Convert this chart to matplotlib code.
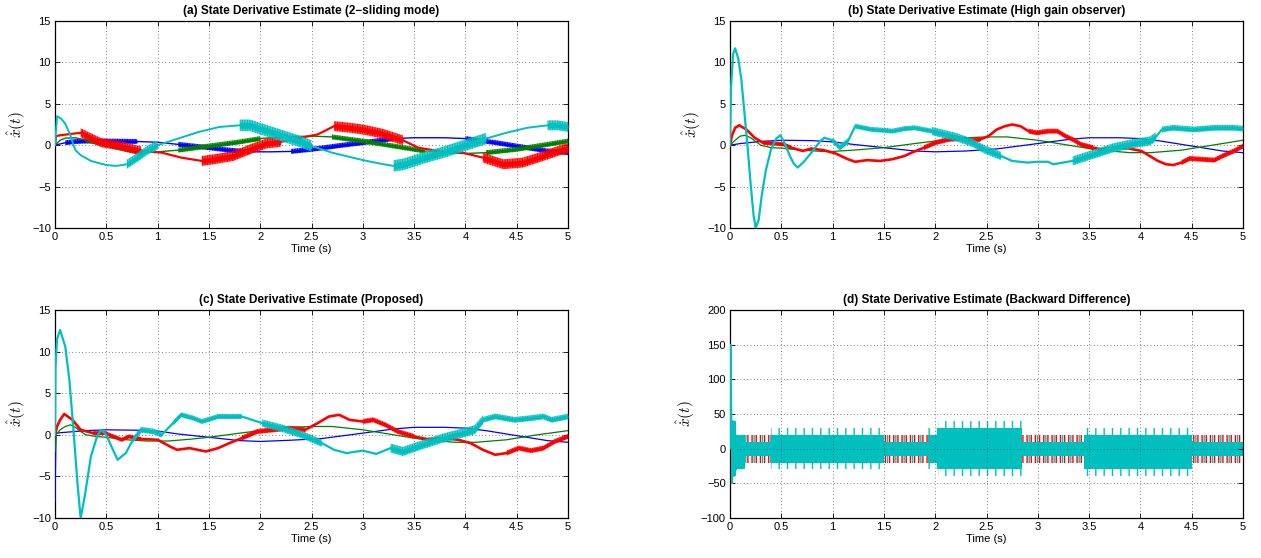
import numpy as np
import matplotlib
matplotlib.use("Agg")
import matplotlib.pyplot as plt

plt.rcParams['font.family'] = ['Liberation Sans', 'DejaVu Sans']
plt.rcParams['mathtext.fontset'] = 'cm'
plt.rcParams['hatch.linewidth'] = 1.0

# ---------------- data ----------------
XTICKS = [0, 0.5, 1, 1.5, 2, 2.5, 3, 3.5, 4, 4.5, 5]
XTICKLABELS = ['0', '0.5', '1', '1.5', '2', '2.5', '3', '3.5', '4', '4.5', '5']
YTICKS_ABC = [-10, -5, 0, 5, 10, 15]
YTICKS_D = [-100, -50, 0, 50, 100, 150, 200]
TITLES = ['(a) State Derivative Estimate (2\u2212sliding mode)',
          '(b) State Derivative Estimate (High gain observer)',
          '(c) State Derivative Estimate (Proposed)',
          '(d) State Derivative Estimate (Backward Difference)']

# panel (a)
A_BLUE_T = [0, 0.1, 0.2, 0.3, 0.5, 0.8, 1.0, 1.2, 1.5, 1.7, 1.9, 2.1, 2.3, 2.5, 2.8, 3.0, 3.3, 3.5, 3.8, 4.0, 4.3, 4.6, 4.8, 5.0]
A_BLUE_Y = [0, 0.3, 0.45, 0.5, 0.5, 0.45, 0.35, 0.1, -0.3, -0.6, -0.8, -0.8, -0.75, -0.5, 0.0, 0.3, 0.8, 0.9, 0.9, 0.8, 0.3, -0.3, -0.7, -0.9]
A_BLUE_BANDS = [(0.1, 0.8, 0.3), (1.2, 1.9, 0.3), (2.3, 3.3, 0.3), (4.0, 5.0, 0.3)]
A_GREEN_T = [0, 0.05, 0.1, 0.2, 0.3, 0.5, 0.7, 0.8, 1.0, 1.2, 1.5, 1.8, 2.0, 2.2, 2.5, 2.7, 3.0, 3.3, 3.6, 3.8, 4.0, 4.2, 4.5, 4.8, 5.0]
A_GREEN_Y = [0, 0.6, 0.85, 0.9, 0.6, 0.0, -0.6, -0.8, -0.8, -0.6, -0.1, 0.4, 0.8, 1.0, 1.1, 1.0, 0.5, -0.1, -0.7, -0.95, -1.0, -0.9, -0.5, 0.1, 0.5]
A_GREEN_BANDS = [(0.3, 0.8, 0.25), (1.2, 2.1, 0.3), (2.7, 3.6, 0.3), (4.2, 5.0, 0.3)]
A_RED_T = [0, 0.01, 0.05, 0.25, 0.45, 0.65, 0.84, 1.04, 1.23, 1.43, 1.55, 1.74, 1.9, 2.06, 2.2, 2.4, 2.56, 2.72, 2.88, 3.0, 3.19, 3.39, 3.54, 3.78, 3.97, 4.17, 4.37, 4.56, 4.76, 4.95, 5.0]
A_RED_Y = [0, 1.1, 1.2, 1.5, 0.3, -0.1, -0.7, -0.9, -1.5, -1.9, -1.7, -1.3, -0.5, 0.2, 0.4, 0.9, 1.3, 2.3, 2.1, 1.9, 1.4, 0.6, -0.3, -0.8, -0.9, -1.5, -2.3, -2.1, -1.3, -0.5, -0.4]
A_RED_BANDS = [(0.25, 0.9, 0.55), (1.43, 2.2, 0.6), (2.72, 3.39, 0.6), (4.17, 5.0, 0.6)]
A_CYAN_T = [0, 0.02, 0.06, 0.1, 0.15, 0.18, 0.2, 0.25, 0.35, 0.5, 0.6, 0.7, 0.8, 0.9, 1.0, 1.2, 1.4, 1.6, 1.8, 1.9, 2.0, 2.2, 2.4, 2.5, 2.7, 3.0, 3.2, 3.3, 3.4, 3.6, 3.8, 4.0, 4.2, 4.4, 4.6, 4.8, 4.9, 5.0]
A_CYAN_Y = [0, 3.5, 3.2, 2.6, 1.2, 0.0, -0.6, -1.2, -1.9, -2.4, -2.5, -2.3, -1.5, -0.6, 0.0, 0.8, 1.6, 2.2, 2.4, 2.4, 2.0, 1.2, 0.4, -0.1, -0.9, -1.8, -2.3, -2.5, -2.3, -1.5, -0.8, 0.0, 0.8, 1.5, 2.1, 2.4, 2.4, 2.2]
A_CYAN_BANDS = [(0.7, 1.0, 0.55), (1.8, 2.5, 0.7), (3.3, 4.2, 0.7), (4.8, 5.0, 0.6)]

# panel (b)
B_BLUE_T = [0, 0.1, 0.3, 0.5, 0.8, 1.0, 1.2, 1.5, 1.8, 2.0, 2.3, 2.6, 3.0, 3.3, 3.5, 3.8, 4.0, 4.2, 4.5, 4.8, 5.0]
B_BLUE_Y = [0, 0.2, 0.45, 0.6, 0.55, 0.4, 0.1, -0.3, -0.7, -0.8, -0.7, -0.45, 0.2, 0.7, 0.9, 0.9, 0.8, 0.5, -0.1, -0.7, -0.9]
B_GREEN_T = [0, 0.05, 0.1, 0.15, 0.2, 0.3, 0.4, 0.5, 0.7, 0.9, 1.0, 1.2, 1.5, 1.8, 2.0, 2.3, 2.5, 2.7, 3.0, 3.3, 3.6, 3.9, 4.1, 4.4, 4.7, 5.0]
B_GREEN_Y = [0, 0.6, 1.1, 1.2, 0.9, 0.0, -0.3, -0.35, -0.6, -0.75, -0.75, -0.6, -0.3, 0.2, 0.5, 0.9, 1.0, 1.0, 0.6, 0.0, -0.6, -0.9, -0.9, -0.6, 0.0, 0.6]
B_RED_T = [0, 0.02, 0.05, 0.09, 0.16, 0.24, 0.32, 0.44, 0.52, 0.6, 0.71, 0.79, 0.91, 1.03, 1.15, 1.22, 1.34, 1.46, 1.58, 1.7,
           1.77, 1.89, 2.0, 2.13, 2.24, 2.36, 2.44, 2.52, 2.6, 2.68, 2.75, 2.83, 2.91, 2.99, 3.1, 3.19, 3.27, 3.34, 3.42, 3.54,
           3.62, 3.74, 3.89, 4.01, 4.09, 4.17, 4.25, 4.32, 4.4, 4.48, 4.6, 4.72, 4.8, 4.91, 5.0]
B_RED_Y = [0, 1.2, 2.1, 2.4, 1.9, 0.9, 0.3, 0.2, 0.1, -0.3, -0.7, -0.4, -0.6, -1.0, -1.7, -2.0, -1.8, -1.9, -1.7, -1.3,
           -0.9, -0.3, 0.3, 0.7, 0.8, 0.6, 0.7, 1.1, 1.9, 2.3, 2.5, 2.3, 1.7, 1.5, 1.7, 1.7, 1.1, 0.7, 0.1, -0.3,
           -0.5, -0.3, -0.4, -0.7, -1.3, -1.9, -2.3, -2.4, -2.1, -1.6, -1.7, -1.8, -1.3, -0.7, -0.1]
B_RED_BANDS = [(0.3, 0.6, 0.25), (1.8, 2.5, 0.3), (2.9, 3.6, 0.3), (4.4, 5.0, 0.3)]
B_CYAN_T = [0, 0.01, 0.03, 0.05, 0.08, 0.11, 0.14, 0.17, 0.2, 0.23, 0.25, 0.28, 0.31, 0.35, 0.4, 0.45, 0.49, 0.53, 0.58, 0.62,
            0.66, 0.72, 0.8, 0.88, 0.92, 1.0, 1.07, 1.15, 1.22, 1.3, 1.38, 1.5, 1.58, 1.7, 1.8, 1.97, 2.1, 2.2, 2.36, 2.48,
            2.64, 2.75, 2.9, 3.0, 3.1, 3.15, 3.34, 3.54, 3.74, 3.93, 4.09, 4.15, 4.21, 4.32, 4.52, 4.72, 4.91, 5.0]
B_CYAN_Y = [0, 7, 11, 11.7, 10.5, 8, 4, 0, -4.5, -8.5, -10, -9, -6, -3, -0.5, 0.8, 1.2, 0.3, -1.2, -2.2,
            -2.7, -2.0, -0.8, 0.5, 0.9, 0.6, -0.3, 0.5, 2.3, 2.1, 1.9, 1.8, 1.7, 2.0, 2.1, 1.7, 1.3, 1.0, 0.3, -0.5,
            -1.3, -1.9, -2.1, -2.0, -2.0, -2.3, -1.9, -1.1, -0.3, 0.2, 0.5, 1.0, 1.9, 2.1, 1.9, 2.1, 2.1, 2.0]
B_CYAN_BANDS = [(0.95, 1.15, 0.35), (1.2, 2.0, 0.3), (1.97, 2.64, 0.5), (3.3, 4.15, 0.55), (4.2, 5.0, 0.35)]

# panel (c)
C_BLUE_T = [0, 0.01, 0.1, 0.3, 0.5, 0.8, 1.0, 1.2, 1.5, 1.8, 2.0, 2.3, 2.6, 3.0, 3.3, 3.5, 3.8, 4.0, 4.2, 4.5, 4.8, 5.0]
C_BLUE_Y = [-8, 0.2, 0.3, 0.5, 0.6, 0.55, 0.45, 0.1, -0.3, -0.7, -0.8, -0.65, -0.45, 0.2, 0.7, 0.9, 0.9, 0.8, 0.5, -0.1, -0.7, -0.9]
C_GREEN_T = [0, 0.01, 0.05, 0.1, 0.15, 0.2, 0.25, 0.3, 0.4, 0.5, 0.7, 0.9, 1.1, 1.3, 1.5, 1.8, 2.0, 2.3, 2.5, 2.7,
             3.0, 3.3, 3.6, 3.9, 4.1, 4.4, 4.7, 5.0]
C_GREEN_Y = [-2, 0, 0.6, 1.0, 1.2, 0.9, 0.4, 0.0, -0.2, -0.3, -0.6, -0.75, -0.75, -0.55, -0.3, 0.2, 0.5, 0.9, 1.0, 1.0,
             0.6, 0.0, -0.6, -0.9, -0.9, -0.6, 0.0, 0.5]
C_RED_T = [0, 0.02, 0.05, 0.09, 0.17, 0.25, 0.37, 0.49, 0.57, 0.65, 0.72, 0.84, 1.0, 1.12, 1.19, 1.31, 1.47, 1.59, 1.7, 1.82,
           1.97, 2.13, 2.28, 2.44, 2.56, 2.67, 2.77, 2.87, 3.0, 3.1, 3.22, 3.34, 3.5, 3.62, 3.78, 3.93, 4.05, 4.17, 4.29, 4.4,
           4.52, 4.64, 4.76, 4.87, 5.0]
C_RED_Y = [0, 1.0, 1.8, 2.5, 1.8, 0.6, 0.2, 0.2, -0.2, -0.6, -0.2, -0.5, -0.6, -1.4, -1.8, -1.6, -2.0, -1.6, -1.0, -0.4,
           0.4, 0.6, 0.8, 0.6, 1.4, 2.2, 2.4, 1.8, 1.6, 1.8, 1.2, 0.4, -0.2, -0.5, -0.4, -0.6, -1.0, -1.8, -2.4, -2.2,
           -1.6, -1.9, -1.6, -0.8, -0.2]
C_RED_BANDS = [(0.3, 0.9, 0.25), (1.8, 2.5, 0.3), (2.9, 3.6, 0.3), (4.4, 5.0, 0.3)]
C_CYAN_T = [0, 0.005, 0.02, 0.05, 0.1, 0.14, 0.18, 0.22, 0.25, 0.29, 0.35, 0.41, 0.45, 0.5, 0.55, 0.61, 0.69, 0.76, 0.84, 0.96,
            1.04, 1.15, 1.23, 1.35, 1.43, 1.59, 1.82, 2.02, 2.21, 2.41, 2.6, 2.72, 2.84, 3.0, 3.13, 3.27, 3.39, 3.58, 3.78, 3.97,
            4.09, 4.17, 4.29, 4.48, 4.64, 4.76, 4.84, 5.0]
C_CYAN_Y = [0, 8.2, 11.5, 12.6, 10.6, 6.6, 0.6, -6, -10, -7.4, -2.6, -0.2, 0.6, 0, -1.4, -3.0, -2.2, -0.6, 0.6, 0.4,
            0, 1.4, 2.4, 2.0, 1.6, 2.2, 2.2, 1.4, 0.8, 0, -1.0, -1.8, -2.2, -1.9, -2.3, -1.6, -2.0, -1.2, -0.4, 0.2,
            0.6, 1.8, 2.2, 1.8, 2.0, 2.2, 1.8, 2.2]
C_CYAN_BANDS = [(0.76, 1.05, 0.35), (1.15, 2.0, 0.3), (2.0, 2.6, 0.45), (3.27, 4.17, 0.55), (4.17, 5.0, 0.35)]

# panel (d): backward difference, given as band envelopes per time segment
D_SEG_T = [0.0, 0.06, 0.15, 0.40, 0.92, 1.50, 1.93, 2.03, 2.85, 3.45, 4.50, 5.0]
D_CYAN_CORE_HI = [40, 20, 10, 20, 20, 10, 20, 30, 10, 20, 10]
D_CYAN_CORE_LO = [-40, -30, -10, -20, -20, -10, -20, -30, -10, -30, -10]
D_CYAN_SPIKE_HI = [50, 20, 20, 30, 30, 20, 30, 40, 20, 30, 20]
D_CYAN_SPIKE_LO = [-50, -30, -20, -30, -30, -20, -30, -40, -20, -40, -20]
D_RED_HI = [20, 20, 20, 20, 20, 20, 20, 20, 20, 20, 20]
D_RED_LO = [-20, -20, -20, -20, -20, -20, -20, -20, -20, -20, -20]
D_START_T = [0, 0.008, 0.014, 0.02, 0.03, 0.04, 0.05, 0.06]
D_START_Y = [0, 150, 50, -50, 40, -40, 20, -30]

BLUE = (0, 0, 1)
GREEN = (0, 0.5, 0)
RED = (1, 0, 0)
CYAN = (0, 0.75, 0.75)

W, H = 1261, 558
POS = {
    'a': [55 / W, (H - 228) / H, 513 / W, 207 / H],
    'b': [730 / W, (H - 228) / H, 513 / W, 207 / H],
    'c': [55 / W, (H - 518) / H, 513 / W, 208 / H],
    'd': [730 / W, (H - 518) / H, 513 / W, 208 / H],
}

fig = plt.figure(figsize=(W / 100, H / 100), dpi=100)


def style(ax, title, yticks):
    ax.set_xlim(0, 5)
    ax.set_ylim(yticks[0], yticks[-1])
    ax.set_xticks(XTICKS)
    ax.set_xticklabels(XTICKLABELS)
    ax.set_yticks(yticks)
    ax.grid(True, linestyle=(0, (1, 3)), color='0.35', linewidth=0.6)
    ax.tick_params(direction='in', top=True, right=True, length=3.5, width=0.6,
                   labelsize=8, pad=3, colors='black')
    for s in ax.spines.values():
        s.set_linewidth(0.9)
        s.set_color('black')
    ax.set_title(title, fontsize=8.5, fontweight='bold', pad=5)
    ax.set_xlabel('Time (s)', fontsize=8, labelpad=1)
    ax.set_ylabel(r'$\hat{\dot{x}}(t)$', fontsize=11, labelpad=3)


def series(ax, t, y, color, lw, bands=()):
    t = np.asarray(t, float)
    y = np.asarray(y, float)
    for t0, t1, w in bands:
        m = (t >= t0) & (t <= t1)
        ax.fill_between(t[m], y[m] - w, y[m] + w, facecolor='none', edgecolor=color,
                        hatch='|' * 10, linewidth=0, zorder=3)
        ax.fill_between(t[m], y[m] - 0.5 * w, y[m] + 0.5 * w, color=color, lw=0, zorder=3)
    ax.plot(t, y, color=color, lw=lw, solid_joinstyle='round', zorder=3)


axa = fig.add_axes(POS['a'])
series(axa, A_BLUE_T, A_BLUE_Y, BLUE, 1.0, A_BLUE_BANDS)
series(axa, A_GREEN_T, A_GREEN_Y, GREEN, 1.0, A_GREEN_BANDS)
series(axa, A_RED_T, A_RED_Y, RED, 1.6, A_RED_BANDS)
series(axa, A_CYAN_T, A_CYAN_Y, CYAN, 1.4, A_CYAN_BANDS)
style(axa, TITLES[0], YTICKS_ABC)

axb = fig.add_axes(POS['b'])
series(axb, B_BLUE_T, B_BLUE_Y, BLUE, 0.9)
series(axb, B_GREEN_T, B_GREEN_Y, GREEN, 0.9)
series(axb, B_RED_T, B_RED_Y, RED, 1.9, B_RED_BANDS)
series(axb, B_CYAN_T, B_CYAN_Y, CYAN, 1.6, B_CYAN_BANDS)
style(axb, TITLES[1], YTICKS_ABC)

axc = fig.add_axes(POS['c'])
series(axc, C_BLUE_T, C_BLUE_Y, BLUE, 0.9)
series(axc, C_GREEN_T, C_GREEN_Y, GREEN, 0.9)
series(axc, C_RED_T, C_RED_Y, RED, 1.9, C_RED_BANDS)
series(axc, C_CYAN_T, C_CYAN_Y, CYAN, 1.6, C_CYAN_BANDS)
style(axc, TITLES[2], YTICKS_ABC)

axd = fig.add_axes(POS['d'])
seg_t = np.asarray(D_SEG_T, float)


def ext(v):
    v = np.asarray(v, float)
    return np.append(v, v[-1])


axd.fill_between(seg_t, ext(D_RED_LO), ext(D_RED_HI), step='post', facecolor='none',
                 edgecolor=RED, hatch='||||', linewidth=0)
axd.fill_between(seg_t, ext(D_CYAN_SPIKE_LO), ext(D_CYAN_SPIKE_HI), step='post', facecolor='none',
                 edgecolor=CYAN, hatch='||', linewidth=0)
axd.fill_between(seg_t, ext(D_CYAN_CORE_LO), ext(D_CYAN_CORE_HI), step='post', color=CYAN, lw=0)
axd.plot(D_START_T, D_START_Y, color=CYAN, lw=1.2, zorder=3)
style(axd, TITLES[3], YTICKS_D)

fig.savefig('out.png', dpi=100)
